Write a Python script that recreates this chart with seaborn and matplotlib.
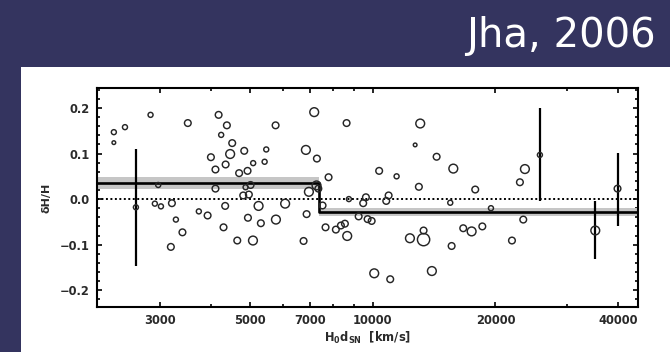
import matplotlib
matplotlib.use("Agg")
import matplotlib.pyplot as plt
from matplotlib.patches import Rectangle
from matplotlib.ticker import FixedLocator, NullFormatter, FixedFormatter, MultipleLocator
import seaborn as sns
import pandas as pd

# ---------------- data ----------------
velocity = [2310, 2310, 2460, 2843, 3510, 4178, 4378, 4239, 4512, 4460, 4000, 4347, 4104,
            2969, 4104, 2617, 2913, 3015, 3208, 3281, 3405, 3189, 3736, 3926, 4336, 4296,
            4830, 5470, 5767, 7175, 8617, 5080, 5420, 4921, 4692, 6845, 7285, 7782, 4867,
            5006, 4802, 4958, 5238, 6087, 6963, 7270, 7345, 7522, 4932, 5306, 5778, 6873,
            4643, 5074, 6756, 7650, 8110, 8345, 8535, 8648, 8730, 9612, 9466, 9226, 9705,
            9930,
            13070, 12700, 14340, 15760, 10360, 11435, 12970, 17840, 10930, 10785, 15490,
            19500, 12330, 13320, 13320, 15610, 16670, 17480, 18570, 10076, 11030, 13960,
            25720, 23630, 22970, 23410, 21960, 35180, 39900]
dH_H = [0.147, 0.124, 0.158, 0.185, 0.167, 0.185, 0.162, 0.141, 0.123, 0.099, 0.092, 0.076, 0.065,
        0.031, 0.023, -0.018, -0.010, -0.016, -0.009, -0.045, -0.073, -0.105, -0.027, -0.036, -0.015, -0.062,
        0.106, 0.109, 0.162, 0.191, 0.167, 0.079, 0.082, 0.062, 0.057, 0.108, 0.089, 0.048, 0.026,
        0.031, 0.008, 0.010, -0.015, -0.010, 0.016, 0.030, 0.023, -0.014, -0.041, -0.053, -0.045, -0.033,
        -0.091, -0.091, -0.092, -0.062, -0.067, -0.058, -0.054, -0.081, 0.000, 0.004, -0.009, -0.038, -0.044,
        -0.048,
        0.166, 0.119, 0.093, 0.067, 0.062, 0.050, 0.027, 0.021, 0.008, -0.004, -0.008,
        -0.020, -0.086, -0.089, -0.069, -0.103, -0.064, -0.071, -0.060, -0.163, -0.176, -0.158,
        0.097, 0.066, 0.037, -0.045, -0.091, -0.069, 0.023]
size_class = [2, 1, 2, 2, 3, 3, 3, 2, 3, 4, 3, 3, 3,
              2, 3, 2, 2, 2, 3, 2, 3, 3, 2, 3, 3, 3,
              3, 2, 3, 4, 3, 2, 2, 3, 3, 4, 3, 3, 2,
              3, 3, 3, 4, 4, 4, 4, 3, 3, 3, 3, 4, 3,
              3, 4, 3, 3, 3, 3, 3, 4, 2, 3, 3, 3, 3,
              3,
              4, 1, 3, 4, 3, 2, 3, 3, 3, 3, 2,
              2, 4, 5, 3, 3, 3, 4, 3, 4, 3, 4,
              2, 4, 3, 3, 3, 4, 3]

# error bars (x, y, lower extent, upper extent)
err_x = [2617, 25720, 35180, 39900]
err_y = [-0.018, 0.097, -0.069, 0.023]
err_lo = [0.128, 0.102, 0.062, 0.081]
err_hi = [0.127, 0.104, 0.064, 0.079]

# step fit: bin edges, level and half-width of band
step_edges = [2100, 7380, 44800]
step_level = [0.035, -0.028]
step_band = [0.013, 0.009]

x_ticks = [3000, 5000, 7000, 10000, 20000, 40000]
x_tick_labels = ["3000", "5000", "7000", "10000", "20000", "40000"]
x_minor = [4000, 6000, 8000, 9000, 30000]
y_ticks = [-0.2, -0.1, 0.0, 0.1, 0.2]
y_tick_labels = ["\u22120.2", "\u22120.1", "0.0", "0.1", "0.2"]

df = pd.DataFrame({"v": velocity, "d": dH_H, "s": size_class})

# ---------------- figure ----------------
sns.set_style("ticks")
plt.rcParams["font.family"] = ["DejaVu Sans"]

fig = plt.figure(figsize=(6.7, 3.52), dpi=100)
fig.patch.set_facecolor("#34345f")
fig.patches.append(Rectangle((21 / 670, 0), 1, 1 - 67 / 352, transform=fig.transFigure,
                             facecolor="white", edgecolor="none", zorder=-10))
fig.text(0.978, 1 - 46.7 / 352, "Jha, 2006", ha="right", va="baseline",
         color="white", fontsize=29)

ax = fig.add_axes([97 / 670, 1 - 307 / 352, (638 - 97) / 670, (307 - 88) / 352])
ax.set_facecolor("white")
ax.set_xscale("log")

# bands and step line
for i in range(len(step_level)):
    ax.fill_between([step_edges[i], step_edges[i + 1]],
                    step_level[i] - step_band[i], step_level[i] + step_band[i],
                    color="#c6c6c6", lw=0, zorder=1)
ax.plot(step_edges, step_level + [step_level[-1]], drawstyle="steps-post",
        color="black", lw=1.9, zorder=2)
ax.axhline(0, color="black", lw=1.4, ls=(0, (1, 1.3)), zorder=2)

ax.errorbar(err_x, err_y, yerr=[err_lo, err_hi], fmt="none", ecolor="black",
            elinewidth=1.6, capsize=0, zorder=3)

sns.scatterplot(data=df, x="v", y="d", size="s",
                sizes={1: 7, 2: 13, 3: 23, 4: 40, 5: 78},
                facecolors="none", edgecolor="#262626", linewidth=1.05,
                legend=False, ax=ax, zorder=4)
for coll in ax.collections:
    if hasattr(coll, "get_sizes") and len(coll.get_offsets()) == len(velocity):
        coll.set_facecolor("none")

ax.set_xlim(2100, 44800)
ax.set_ylim(-0.237, 0.244)

ax.xaxis.set_major_locator(FixedLocator(x_ticks))
ax.xaxis.set_major_formatter(FixedFormatter(x_tick_labels))
ax.xaxis.set_minor_locator(FixedLocator(x_minor))
ax.xaxis.set_minor_formatter(NullFormatter())
ax.yaxis.set_major_locator(FixedLocator(y_ticks))
ax.yaxis.set_major_formatter(FixedFormatter(y_tick_labels))
ax.yaxis.set_minor_locator(MultipleLocator(0.02))

ax.tick_params(which="both", direction="in", top=True, right=True, width=1.2,
               colors="black", labelcolor="#2a2a2a", labelsize=8.3)
ax.tick_params(which="major", length=3.6, pad=5)
ax.tick_params(which="minor", length=2.2)
for lab in ax.get_xticklabels() + ax.get_yticklabels():
    lab.set_fontweight("bold")
for sp in ax.spines.values():
    sp.set_linewidth(1.5)
    sp.set_color("black")
    sp.set_visible(True)

ax.set_xlabel(r"$\mathregular{H_0d_{SN}}$  [km/s]", fontsize=8.3, fontweight="bold",
              color="#2a2a2a", labelpad=2)
ax.set_ylabel("\u03b4H/H", fontsize=8, fontweight="bold", color="#2a2a2a", labelpad=6)

fig.savefig("out.png", dpi=100, facecolor=fig.get_facecolor())
